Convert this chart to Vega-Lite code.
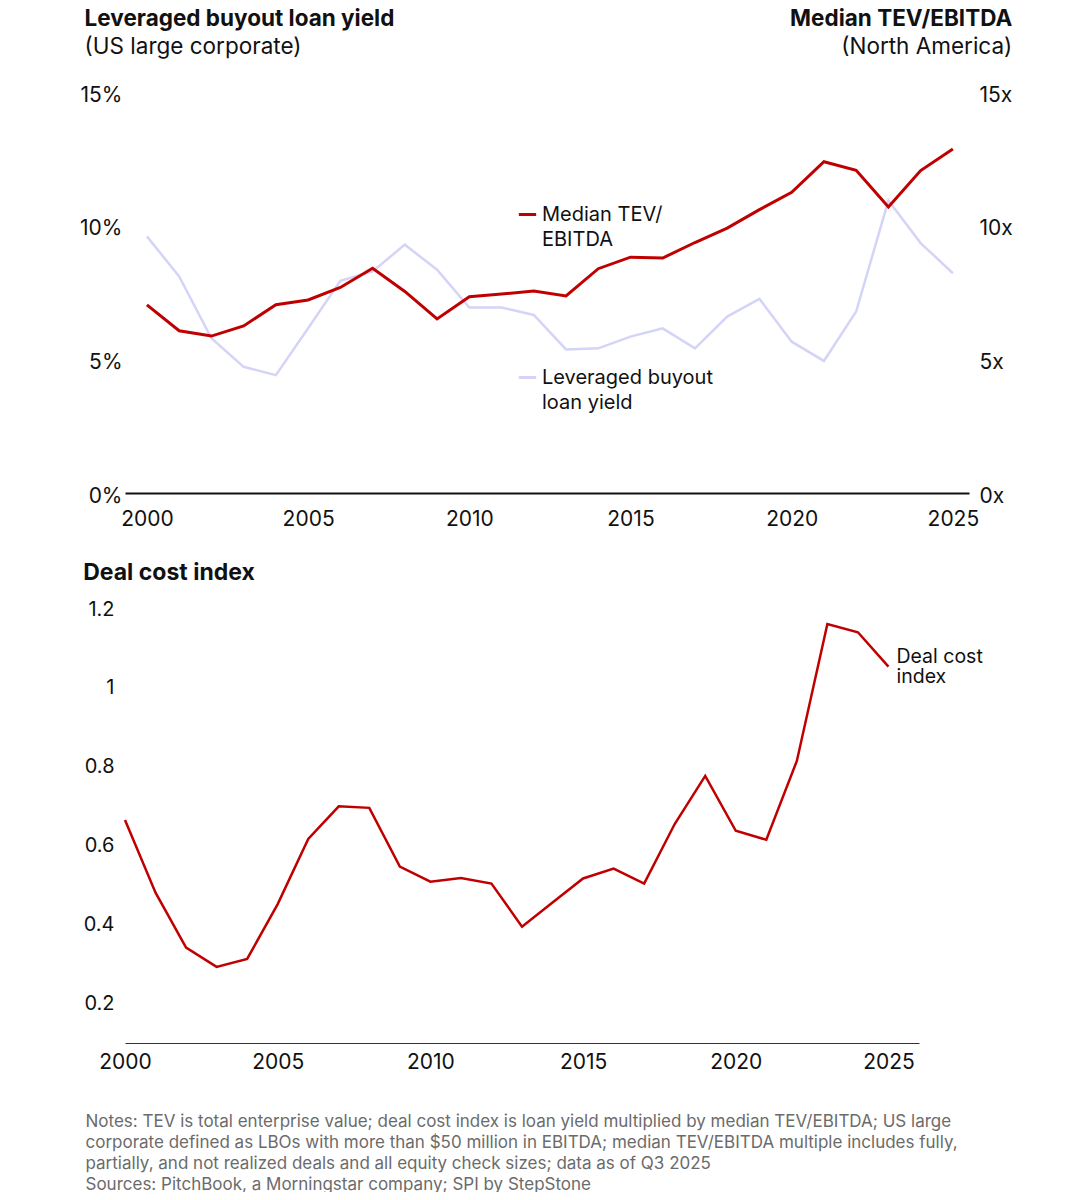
{
  "$schema": "https://vega.github.io/schema/vega-lite/v6.json",
  "background": "white",
  "autosize": {"type": "pad"},
  "padding": {"left": 79, "top": 8, "right": 0, "bottom": 0},
  "title": {
    "text": "Median TEV/EBITDA",
    "subtitle": "(North America)",
    "anchor": "end",
    "frame": "bounds",
    "offset": -50,
    "font": "Inter",
    "fontSize": 22.5,
    "fontWeight": "bold",
    "color": "#111111",
    "subtitleFont": "Inter",
    "subtitleFontSize": 22.5,
    "subtitleColor": "#111111",
    "subtitlePadding": 5
  },
  "datasets": {
    "top": [
      {"year": 2000, "series": "Median TEV/EBITDA", "value": 7.04},
      {"year": 2001, "series": "Median TEV/EBITDA", "value": 6.07},
      {"year": 2002, "series": "Median TEV/EBITDA", "value": 5.87},
      {"year": 2003, "series": "Median TEV/EBITDA", "value": 6.25},
      {"year": 2004, "series": "Median TEV/EBITDA", "value": 7.04},
      {"year": 2005, "series": "Median TEV/EBITDA", "value": 7.22},
      {"year": 2006, "series": "Median TEV/EBITDA", "value": 7.69},
      {"year": 2007, "series": "Median TEV/EBITDA", "value": 8.41},
      {"year": 2008, "series": "Median TEV/EBITDA", "value": 7.54},
      {"year": 2009, "series": "Median TEV/EBITDA", "value": 6.51},
      {"year": 2010, "series": "Median TEV/EBITDA", "value": 7.34},
      {"year": 2011, "series": "Median TEV/EBITDA", "value": 7.44},
      {"year": 2012, "series": "Median TEV/EBITDA", "value": 7.56},
      {"year": 2013, "series": "Median TEV/EBITDA", "value": 7.37},
      {"year": 2014, "series": "Median TEV/EBITDA", "value": 8.39},
      {"year": 2015, "series": "Median TEV/EBITDA", "value": 8.82},
      {"year": 2016, "series": "Median TEV/EBITDA", "value": 8.79},
      {"year": 2017, "series": "Median TEV/EBITDA", "value": 9.37},
      {"year": 2018, "series": "Median TEV/EBITDA", "value": 9.91},
      {"year": 2019, "series": "Median TEV/EBITDA", "value": 10.6},
      {"year": 2020, "series": "Median TEV/EBITDA", "value": 11.25},
      {"year": 2021, "series": "Median TEV/EBITDA", "value": 12.39},
      {"year": 2022, "series": "Median TEV/EBITDA", "value": 12.07},
      {"year": 2023, "series": "Median TEV/EBITDA", "value": 10.7},
      {"year": 2024, "series": "Median TEV/EBITDA", "value": 12.06},
      {"year": 2025, "series": "Median TEV/EBITDA", "value": 12.87},
      {"year": 2000, "series": "Leveraged buyout loan yield", "value": 9.6},
      {"year": 2001, "series": "Leveraged buyout loan yield", "value": 8.1},
      {"year": 2002, "series": "Leveraged buyout loan yield", "value": 5.79},
      {"year": 2003, "series": "Leveraged buyout loan yield", "value": 4.72},
      {"year": 2004, "series": "Leveraged buyout loan yield", "value": 4.41},
      {"year": 2005, "series": "Leveraged buyout loan yield", "value": 6.16},
      {"year": 2006, "series": "Leveraged buyout loan yield", "value": 7.94},
      {"year": 2007, "series": "Leveraged buyout loan yield", "value": 8.29},
      {"year": 2008, "series": "Leveraged buyout loan yield", "value": 9.29},
      {"year": 2009, "series": "Leveraged buyout loan yield", "value": 8.35},
      {"year": 2010, "series": "Leveraged buyout loan yield", "value": 6.94},
      {"year": 2011, "series": "Leveraged buyout loan yield", "value": 6.94},
      {"year": 2012, "series": "Leveraged buyout loan yield", "value": 6.66},
      {"year": 2013, "series": "Leveraged buyout loan yield", "value": 5.37},
      {"year": 2014, "series": "Leveraged buyout loan yield", "value": 5.41},
      {"year": 2015, "series": "Leveraged buyout loan yield", "value": 5.85},
      {"year": 2016, "series": "Leveraged buyout loan yield", "value": 6.16},
      {"year": 2017, "series": "Leveraged buyout loan yield", "value": 5.41},
      {"year": 2018, "series": "Leveraged buyout loan yield", "value": 6.6},
      {"year": 2019, "series": "Leveraged buyout loan yield", "value": 7.26},
      {"year": 2020, "series": "Leveraged buyout loan yield", "value": 5.66},
      {"year": 2021, "series": "Leveraged buyout loan yield", "value": 4.94},
      {"year": 2022, "series": "Leveraged buyout loan yield", "value": 6.79},
      {"year": 2023, "series": "Leveraged buyout loan yield", "value": 10.94},
      {"year": 2024, "series": "Leveraged buyout loan yield", "value": 9.35},
      {"year": 2025, "series": "Leveraged buyout loan yield", "value": 8.22}
    ],
    "deal": [
      {"year": 2000, "index": 0.665},
      {"year": 2001, "index": 0.481},
      {"year": 2002, "index": 0.342},
      {"year": 2003, "index": 0.293},
      {"year": 2004, "index": 0.313},
      {"year": 2005, "index": 0.452},
      {"year": 2006, "index": 0.617},
      {"year": 2007, "index": 0.7},
      {"year": 2008, "index": 0.696},
      {"year": 2009, "index": 0.547},
      {"year": 2010, "index": 0.509},
      {"year": 2011, "index": 0.518},
      {"year": 2012, "index": 0.504},
      {"year": 2013, "index": 0.395},
      {"year": 2014, "index": 0.456},
      {"year": 2015, "index": 0.517},
      {"year": 2016, "index": 0.542},
      {"year": 2017, "index": 0.504},
      {"year": 2018, "index": 0.655},
      {"year": 2019, "index": 0.777},
      {"year": 2020, "index": 0.638},
      {"year": 2021, "index": 0.615},
      {"year": 2022, "index": 0.815},
      {"year": 2023, "index": 1.162},
      {"year": 2024, "index": 1.141},
      {"year": 2025, "index": 1.054}
    ]
  },
  "columns": 1,
  "align": "none",
  "center": false,
  "spacing": 33,
  "concat": [
    {
      "width": 844,
      "height": 401,
      "title": {
        "text": "Leveraged buyout loan yield",
        "subtitle": "(US large corporate)",
        "anchor": "start",
        "frame": "bounds",
        "offset": 26,
        "dx": 5,
        "font": "Inter",
        "fontSize": 22.5,
        "fontWeight": "bold",
        "color": "#111111",
        "subtitleFont": "Inter",
        "subtitleFontSize": 22.5,
        "subtitleColor": "#111111",
        "subtitlePadding": 5
      },
      "data": {"name": "top"},
      "encoding": {
        "x": {
          "field": "year",
          "type": "quantitative",
          "scale": {"domain": [1999.32, 2025.5], "nice": false, "zero": false},
          "axis": {
            "values": [2000, 2005, 2010, 2015, 2020, 2025],
            "format": "d",
            "title": null,
            "domainColor": "#111111",
            "domainWidth": 2,
            "labelFlush": false,
            "labelPadding": 15
          }
        }
      },
      "layer": [
        {
          "transform": [{"filter": "datum.series == 'Leveraged buyout loan yield'"}],
          "mark": {"type": "line", "strokeWidth": 2.5},
          "encoding": {
            "y": {
              "field": "value",
              "type": "quantitative",
              "scale": {"domain": [0, 15], "nice": false},
              "axis": {
                "orient": "left",
                "values": [0, 5, 10, 15],
                "labelExpr": "datum.value + '%'",
                "domain": false,
                "labelPadding": 3,
                "labelOffset": 3,
                "title": null
              }
            },
            "color": {
              "field": "series",
              "type": "nominal",
              "scale": {
                "domain": ["Median TEV/EBITDA", "Leveraged buyout loan yield"],
                "range": ["#c00000", "#d4d4f8"]
              },
              "legend": {
                "orient": "none",
                "legendX": 392,
                "legendY": 112,
                "title": null,
                "padding": 0,
                "symbolType": "stroke",
                "symbolSize": 300,
                "symbolStrokeWidth": 3,
                "labelFont": "Inter",
                "labelFontSize": 20,
                "labelColor": "#111111",
                "labelLimit": 400,
                "labelOffset": 4,
                "rowPadding": 117,
                "labelExpr": "datum.label == 'Median TEV/EBITDA' ? ['Median TEV/', 'EBITDA'] : ['Leveraged buyout', 'loan yield']"
              }
            }
          }
        },
        {
          "transform": [{"filter": "datum.series == 'Median TEV/EBITDA'"}],
          "mark": {"type": "line", "strokeWidth": 3},
          "encoding": {
            "y": {
              "field": "value",
              "type": "quantitative",
              "scale": {"domain": [0, 15], "nice": false},
              "axis": {
                "orient": "right",
                "values": [0, 5, 10, 15],
                "labelExpr": "datum.value + 'x'",
                "domain": false,
                "labelPadding": 10,
                "labelOffset": 3,
                "title": null
              }
            },
            "color": {"field": "series", "type": "nominal"}
          }
        }
      ],
      "resolve": {"scale": {"y": "independent"}}
    },
    {
      "width": 794,
      "height": 434,
      "title": {
        "text": "Deal cost index",
        "anchor": "start",
        "frame": "bounds",
        "offset": 14,
        "font": "Inter",
        "fontSize": 23,
        "fontWeight": "bold",
        "color": "#111111"
      },
      "data": {"name": "deal"},
      "encoding": {
        "x": {
          "field": "year",
          "type": "quantitative",
          "scale": {"domain": [2000, 2026], "nice": false, "zero": false},
          "axis": {
            "values": [2000, 2005, 2010, 2015, 2020, 2025],
            "format": "d",
            "domainColor": "#333333",
            "domainWidth": 1,
            "labelFlush": false,
            "labelPadding": 8,
            "title": [
              "Notes: TEV is total enterprise value; deal cost index is loan yield multiplied by median TEV/EBITDA; US large",
              "corporate defined as LBOs with more than $50 million in EBITDA; median TEV/EBITDA multiple includes fully,",
              "partially, and not realized deals and all equity check sizes; data as of Q3 2025",
              "Sources: PitchBook, a Morningstar company; SPI by StepStone"
            ],
            "titleFont": "Inter",
            "titleFontSize": 17,
            "titleFontWeight": "normal",
            "titleColor": "#6b6b6b",
            "titleAlign": "left",
            "titleAnchor": "start",
            "titleBaseline": "top",
            "titleLineHeight": 21,
            "titleX": -40,
            "titleY": 70
          }
        },
        "y": {
          "field": "index",
          "type": "quantitative",
          "scale": {"domain": [0.1, 1.2], "nice": false, "zero": false},
          "axis": {
            "values": [0.2, 0.4, 0.6, 0.8, 1, 1.2],
            "format": "~g",
            "domain": false,
            "labelFontSize": 20,
            "labelPadding": 11,
            "title": null
          }
        }
      },
      "layer": [
        {
          "mark": {"type": "line", "color": "#c00000", "strokeWidth": 2.5}
        },
        {
          "transform": [{"filter": "datum.year == 2025"}],
          "mark": {
            "type": "text",
            "text": ["Deal cost", "index"],
            "align": "left",
            "baseline": "middle",
            "dx": 8,
            "dy": -10,
            "font": "Inter",
            "fontSize": 19.5,
            "lineHeight": 20,
            "color": "#111111"
          }
        }
      ]
    }
  ],
  "config": {
    "font": "Inter",
    "view": {"stroke": null},
    "style": {"guide-label": {"lineHeight": 25}},
    "axis": {
      "grid": false,
      "ticks": false,
      "labelFont": "Inter",
      "labelFontSize": 21,
      "labelColor": "#111111"
    }
  }
}
